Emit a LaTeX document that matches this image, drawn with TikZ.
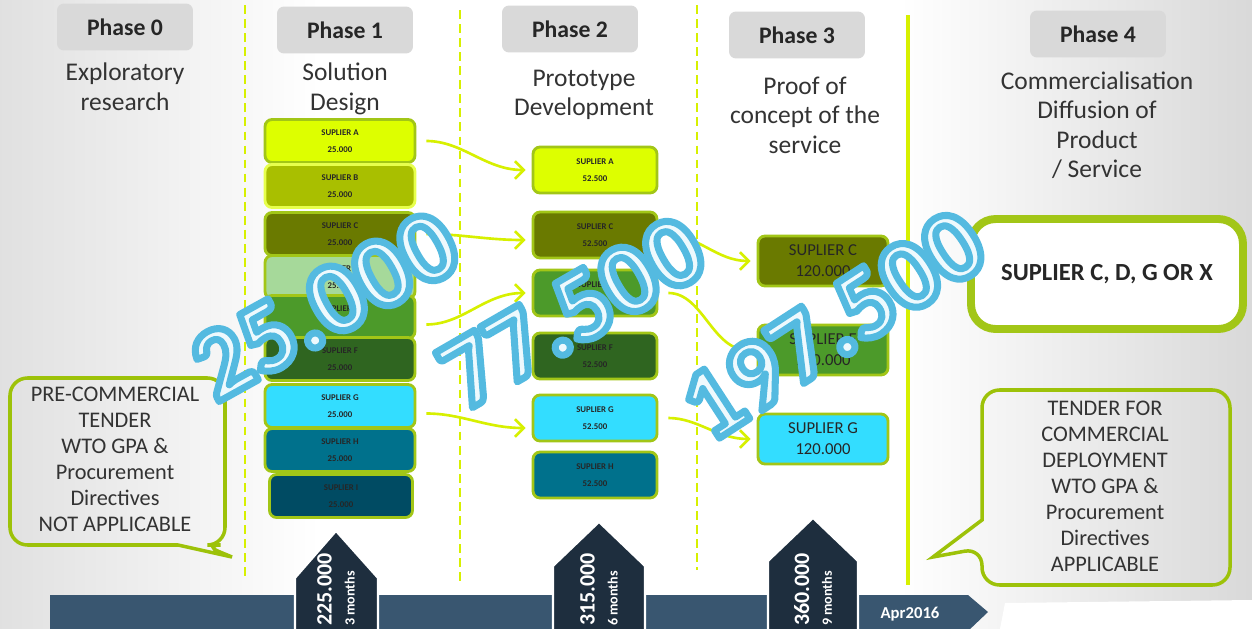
\documentclass[tikz,border=0pt]{standalone}
\usepackage{fontspec}
\setmainfont{Carlito}
\usetikzlibrary{arrows.meta}
\newcommand{\wmline}[1]{\special{pdf:literal direct 2 Tr 4 w 1 j 0.33 0.73 0.88 RG}#1\special{pdf:literal direct 0 Tr}}
\definecolor{limeline}{HTML}{D7F000}
\definecolor{boxborder}{HTML}{A2C617}
\definecolor{phasegray}{HTML}{D9D9D9}
\definecolor{supA}{HTML}{DDFF00}
\definecolor{supB}{HTML}{A9BF00}
\definecolor{supC}{HTML}{6A7A00}
\definecolor{supD}{HTML}{A6D99A}
\definecolor{supE}{HTML}{4C9A2A}
\definecolor{supF}{HTML}{2F6520}
\definecolor{supG}{HTML}{33DDFF}
\definecolor{supH}{HTML}{00718C}
\definecolor{supI}{HTML}{004B63}
\definecolor{barblue}{HTML}{395670}
\definecolor{markblue}{HTML}{1E2E3E}
\definecolor{callgreen}{HTML}{9DC209}
\definecolor{wmfill}{HTML}{EEF9FD}
\tikzset{
  phasebox/.style={fill=phasegray, rounded corners=4pt, minimum width=2.72cm, minimum height=0.94cm, font=\fontsize{13.5}{15}\selectfont\bfseries, text=black!85},
  phasetext/.style={align=center, font=\fontsize{14.5}{16.8}\selectfont, text=black!80},
  supbox/.style={draw=boxborder, line width=1.6pt, rounded corners=4pt, minimum width=3cm, minimum height=0.86cm, align=center, inner sep=1pt, font=\fontsize{5}{10}\selectfont\bfseries, text=black!85},
  flow/.style={draw=limeline, line width=1.5pt, -{Straight Barb[length=5pt,width=10pt]}, shorten <=0.2cm, shorten >=0.12cm},
  vdash/.style={draw=limeline, line width=1.3pt, dash pattern=on 5pt off 3pt},
  callline/.style={draw=callgreen, line width=2pt},
  calltext/.style={align=center, text=black!80, font=\fontsize{12.7}{14.8}\selectfont},
  marker/.style={fill=markblue, draw=white, line width=1.2pt},
  marktext/.style={rotate=90, anchor=west, align=left, inner sep=1pt, text=white, font=\fontsize{12.5}{13}\selectfont\bfseries},
  watermark/.style={text=wmfill, font=\fontsize{58}{60}\selectfont\bfseries}
}
\begin{document}
\begin{tikzpicture}[x=0.02cm, y=-0.02cm]
\useasboundingbox (0,0) rectangle (1252,629);
\fill[white] (0,0) rectangle (1252,629);
\shade[left color=black!12, right color=white] (0,0) rectangle (320,629);
\shade[left color=white, right color=black!15] (900,0) rectangle (1252,629);
\fill[white] (1005,603) -- (1252,600) -- (1252,629) -- (1000,629) -- cycle;

\draw[vdash] (245,5) -- (245,580);
\draw[vdash] (460,10) -- (460,585);
\draw[vdash] (697,5) -- (697,570);
\draw[limeline, line width=1.8pt] (908,15) -- (908,585);

\node[phasebox] (h0) at (125,27) {Phase 0};
\node[phasebox] (h1) at (345,30) {Phase 1};
\node[phasebox] (h2) at (570,29) {Phase 2};
\node[phasebox] (h3) at (797,35) {Phase 3};
\node[phasebox] (h4) at (1098,34) {Phase 4};
\node[phasetext] (s0) at (125,87) {Exploratory\\research};
\node[phasetext] (s1) at (345,89) {Solution\\Design};
\node[phasetext] (s2) at (584,95) {Prototype\\Development};
\node[phasetext] (s3) at (805,115) {Proof of\\concept of the\\service};
\node[phasetext] (s4) at (1097,125) {Commercialisation\\Diffusion of\\Product\\/ Service};

\node[supbox, fill=supA] (pA) at (340,141) {SUPLIER A\\25.000};
\node[supbox, fill=supB, draw=supA!70!white] (pB) at (340,186) {SUPLIER B\\25.000};
\node[supbox, fill=supC] (pC) at (340,234) {SUPLIER C\\25.000};
\node[supbox, fill=supD] (pD) at (340,277) {SUPLIER D\\25.000};
\node[supbox, fill=supE] (pE) at (340,317) {SUPLIER E\\25.000};
\node[supbox, fill=supF] (pF) at (340,359) {SUPLIER F\\25.000};
\node[supbox, fill=supG] (pG) at (340,406) {SUPLIER G\\25.000};
\node[supbox, fill=supH] (pH) at (340,450) {SUPLIER H\\25.000};
\node[supbox, fill=supI, minimum width=2.86cm] (pI) at (341,496) {SUPLIER I\\25.000};

\node[supbox, fill=supA, minimum width=2.48cm, minimum height=0.92cm] (qA) at (595,170) {SUPLIER A\\52.500};
\node[supbox, fill=supC, minimum width=2.48cm, minimum height=0.92cm] (qC) at (595,235) {SUPLIER C\\52.500};
\node[supbox, fill=supE, minimum width=2.48cm, minimum height=0.92cm] (qE) at (595,293) {SUPLIER E\\52.500};
\node[supbox, fill=supF, minimum width=2.48cm, minimum height=0.92cm] (qF) at (595,356) {SUPLIER F\\52.500};
\node[supbox, fill=supG, minimum width=2.48cm, minimum height=0.92cm] (qG) at (595,418) {SUPLIER G\\52.500};
\node[supbox, fill=supH, minimum width=2.48cm, minimum height=0.92cm] (qH) at (595,475) {SUPLIER H\\52.500};

\node[supbox, fill=supC, minimum width=2.6cm, minimum height=1cm, font=\fontsize{9.5}{12}\selectfont] (rC) at (823,261) {SUPLIER C\\120.000};
\node[supbox, fill=supE, minimum width=2.6cm, minimum height=1cm, font=\fontsize{9.5}{12}\selectfont] (rE) at (823,350) {SUPLIER E\\120.000};
\node[supbox, fill=supG, minimum width=2.6cm, minimum height=1cm, font=\fontsize{9.5}{12}\selectfont] (rG) at (823,439) {SUPLIER G\\120.000};

\draw[flow] (pA.east) to[out=0, in=180] (qA.west);
\draw[flow] (pC.east) to[out=0, in=180] ([yshift=-0.1cm]qC.west);
\draw[flow] ([yshift=-0.15cm]pE.east) to[out=0, in=180] (qE.west);
\draw[flow] ([yshift=-0.15cm]pG.east) to[out=0, in=180] ([yshift=-0.2cm]qG.west);
\draw[flow] (qC.east) to[out=0, in=180] (rC.west);
\draw[flow] (qE.east) to[out=0, in=180] (rE.west);
\draw[flow] (qG.east) to[out=0, in=180] (rG.west);

\node[draw=boxborder, line width=4.5pt, rounded corners=14pt, fill=white, minimum width=5.44cm, minimum height=2.2cm, font=\fontsize{14}{16}\selectfont\bfseries, text=black!85] (p4) at (1107,274) {SUPLIER C, D, G OR X};

\draw[callline] (117,378) [rounded corners=10pt] -- (225,378) -- (225,545) -- (203,545) [sharp corners] -- (232,557) -- (178,545) [rounded corners=10pt] -- (10,545) -- (10,378) -- (117,378);
\node[calltext] (lt) at (115,459) {PRE-COMMERCIAL\\TENDER\\WTO GPA \&\\Procurement\\Directives\\NOT APPLICABLE};
\draw[callline] (1105,390) [rounded corners=10pt] -- (1230,390) -- (1230,585) -- (982,585) -- (982,548) [sharp corners] -- (933,557) -- (982,520) [rounded corners=10pt] -- (982,390) -- (1105,390);
\node[calltext] (rt) at (1105,486) {TENDER FOR\\COMMERCIAL\\DEPLOYMENT\\WTO GPA \&\\Procurement\\Directives\\APPLICABLE};

\fill[barblue] (50,595) -- (968,595) -- (988,612) -- (968,631) -- (50,631) -- cycle;
\node[text=white, font=\fontsize{9.5}{10}\selectfont\bfseries] (apr) at (910,614) {Apr2016};
\filldraw[marker] (295,632) -- (295,578) -- (336,531) -- (378,578) -- (378,632);
\filldraw[marker] (553,632) -- (553,566) -- (599,522) -- (645,566) -- (645,632);
\filldraw[marker] (768,632) -- (768,561) -- (813,518) -- (858,561) -- (858,632);
\node[marktext] (m1) at (336,628) {225.000\\{\fontsize{8}{9}\selectfont 3 months}};
\node[marktext] (m2) at (599,628) {315.000\\{\fontsize{8}{9}\selectfont 6 months}};
\node[marktext] (m3) at (813,628) {360.000\\{\fontsize{8}{9}\selectfont 9 months}};

\node[watermark, rotate=29] (w1) at (325,305) {\wmline{25.000}};
\node[watermark, rotate=30] (w2) at (572,312) {\wmline{77.500}};
\node[watermark, rotate=33] (w3) at (833,325) {\wmline{197.500}};
\end{tikzpicture}
\end{document}
